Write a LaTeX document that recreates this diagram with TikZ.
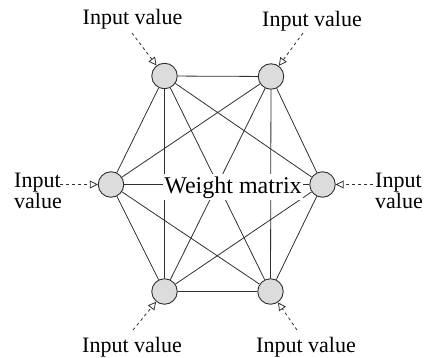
\documentclass[tikz,border=0pt]{standalone}
\usepackage{fontspec}
\setmainfont{Liberation Serif}
\usetikzlibrary{arrows.meta,backgrounds}
\definecolor{nodegray}{HTML}{DCDCDC}
\definecolor{edgegray}{HTML}{303030}
\begin{document}
\begin{tikzpicture}[x=1pt,y=-1pt,
  neuron/.style={circle,draw=edgegray,line width=0.9pt,fill=nodegray,minimum size=25.5pt,inner sep=0pt},
  link/.style={draw=edgegray,line width=0.8pt},
  feed/.style={draw=edgegray,line width=0.8pt,dash pattern=on 3pt off 3pt,
    -{Triangle[open,length=8pt,width=8pt,line width=0.8pt]}},
  lbl/.style={font=\fontsize{22}{19}\selectfont,inner sep=0pt},
]
\useasboundingbox (0,0) rectangle (425,358);
% neurons
\node[neuron] (tl) at (164.5,76) {};
\node[neuron] (tr) at (271,76.5) {};
\node[neuron] (l)  at (111,184.5) {};
\node[neuron] (r)  at (322.5,184.5) {};
\node[neuron] (bl) at (164.5,291.5) {};
\node[neuron] (br) at (270.5,291.5) {};
% weight matrix label
\node[fill=white,inner xsep=1pt,inner ysep=2pt,font=\fontsize{24}{24}\selectfont,anchor=base] (wm) at (233,193) {Weight matrix};
% full interconnection
\begin{scope}[on background layer]
\foreach \a/\b in {tl/tr,tl/l,tl/r,tl/bl,tl/br,tr/l,tr/r,tr/bl,tr/br,l/r,l/bl,l/br,r/bl,r/br,bl/br}
  \draw[link] (\a) -- (\b);
\end{scope}
% input labels
\node[lbl,anchor=base] (itl) at (132.5,25) {Input value};
\node[lbl,anchor=base] (itr) at (312,27) {Input value};
\node[lbl,anchor=base] (ibl) at (132,352) {Input value};
\node[lbl,anchor=base] (ibr) at (306,352) {Input value};
\node[lbl,align=left,anchor=base west] (il) at (14,208) {Input\\value};
\node[lbl,align=left,anchor=base west] (ir) at (375,208) {Input\\value};
% feed coordinates
\coordinate (stl) at (132,33);
\coordinate (str) at (303,33);
\coordinate (sbl) at (133,330);
\coordinate (sbr) at (297,330);
\coordinate (sl) at (60,184.5);
\coordinate (sr) at (373,184.5);
\draw[feed] (stl) -- (tl);
\draw[feed] (str) -- (tr);
\draw[feed] (sbl) -- (bl);
\draw[feed] (sbr) -- (br);
\draw[feed] (sl) -- (l);
\draw[feed] (sr) -- (r);
\end{tikzpicture}
\end{document}
